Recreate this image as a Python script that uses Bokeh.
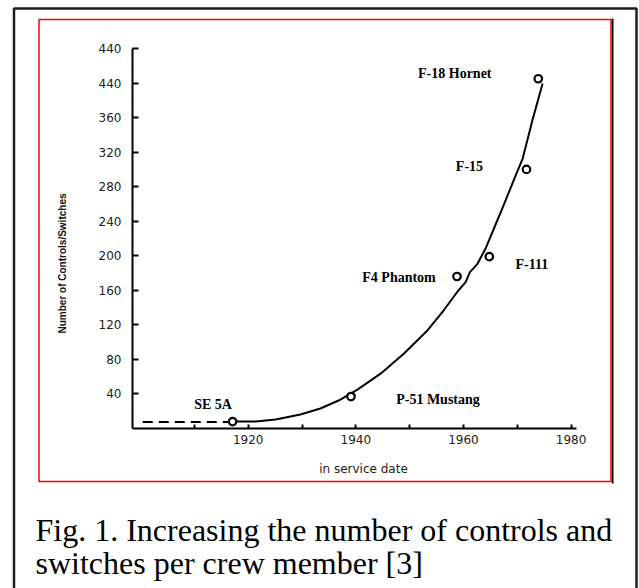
import math
from bokeh.plotting import figure
from bokeh.models import ColumnDataSource, FixedTicker, Label, BoxAnnotation, Range1d
from bokeh.core.properties import value
from bokeh.embed import file_html
from bokeh.resources import INLINE

# ---------------- data ----------------
aircraft = ["SE 5A", "P-51 Mustang", "F4 Phantom", "F-111", "F-15", "F-18 Hornet"]
service_year = [1917.1, 1939.1, 1958.8, 1964.8, 1971.7, 1973.9]
controls = [8, 37, 176, 199, 300, 405]

# hand-drawn trend curve, sampled along the drawn line
trend_year = [1917.1, 1921.4, 1925.1, 1929.7, 1933.4, 1936.8, 1940.3, 1944.6,
              1948.9, 1953.3, 1956.3, 1958.8, 1960.4, 1961.2, 1962.6, 1964.1,
              1966.9, 1969.7, 1971.0, 1972.8, 1974.7]
trend_controls = [8.1, 8.1, 10.4, 16.2, 23.2, 32.4, 45.0, 63.5,
                  86.5, 113.5, 136.6, 157.8, 169.4, 181.0, 190.7, 208.4,
                  250.1, 293.0, 312.6, 356.6, 399.5]

# dashed early segment before SE 5A
early_year = [1900.4, 1916.5]
early_controls = [7.5, 7.5]

x_ticks = [1910, 1920, 1930, 1940, 1950, 1960, 1970, 1980]
x_tick_labels = ["", "1920", "", "1940", "", "1960", "", "1980"]
y_ticks = [40, 80, 120, 160, 200, 240, 280, 320, 360, 400, 440]
y_tick_labels = ["40", "80", "120", "160", "200", "240", "280", "320", "360", "440", "440"]

x_title = "in service date"
y_title = "Number of Controls/Switches"
caption_lines = ["Fig. 1. Increasing the number of controls and",
                 "switches per crew member [3]"]

# ---------------- layout constants (page pixels) ----------------
W, H = 639, 588          # canvas size
M = 0                    # page offset of the canvas
OX, OY = 132, 428        # page position of axis origin
X0, X1 = 1898.5, 1981.0  # x-axis extent
Y1 = 440.0
SX = 444.0 / (X1 - X0)   # px per year
SY = 380.0 / Y1          # px per unit


def px2x(px):
    return X0 + (px - OX) / SX


def py2y(py):
    return (OY - py) / SY


p = figure(frame_width=W, frame_height=H, min_border=0,
           min_border_left=0, min_border_right=0, min_border_top=0, min_border_bottom=0,
           x_range=Range1d(px2x(M), px2x(M + W)),
           y_range=Range1d(py2y(M + H), py2y(M)),
           output_backend="svg", toolbar_location=None, tools="")
p.title.visible = False
p.outline_line_color = None
p.background_fill_color = "white"
p.border_fill_color = "white"
p.grid.visible = False

# ---------------- decorations ----------------
outer = BoxAnnotation(left=px2x(13.5), right=px2x(636), top=py2y(8), bottom=py2y(640),
                      fill_color=None, line_color="#1e1e1e", line_alpha=1.0, line_width=2.5)
red = BoxAnnotation(left=px2x(38.5), right=px2x(610.5), top=py2y(19), bottom=py2y(481),
                    fill_color=None, line_color="#ff0000", line_alpha=1.0, line_width=1.5)
shadow = BoxAnnotation(left=px2x(611.3), right=px2x(613), top=py2y(18), bottom=py2y(483),
                       fill_color="black", fill_alpha=1.0, line_color=None)
for b in (outer, red, shadow):
    p.add_layout(b)

# ---------------- axes ----------------
xa = p.xaxis[0]
xa.fixed_location = 0
xa.bounds = (X0, X1)
xa.ticker = FixedTicker(ticks=x_ticks)
xa.major_label_overrides = {t: l for t, l in zip(x_ticks, x_tick_labels)}
xa.axis_line_width = 2
xa.axis_line_color = "black"
xa.major_tick_in = 4
xa.major_tick_out = 0
xa.major_tick_line_width = 2
xa.minor_tick_line_color = None
xa.major_label_standoff = 6
xa.major_label_text_font = "DejaVu Sans"
xa.major_label_text_font_size = "12px"
xa.major_label_text_color = "#222222"

ya = p.yaxis[0]
ya.fixed_location = X0
ya.bounds = (0, Y1)
ya.ticker = FixedTicker(ticks=y_ticks)
ya.major_label_overrides = {t: l for t, l in zip(y_ticks, y_tick_labels)}
ya.axis_line_width = 2
ya.axis_line_color = "black"
ya.major_tick_in = 6
ya.major_tick_out = 0
ya.major_tick_line_width = 2
ya.minor_tick_line_color = None
ya.major_label_standoff = 11
ya.major_label_text_font = "DejaVu Sans"
ya.major_label_text_font_size = "12px"
ya.major_label_text_color = "#222222"

# ---------------- data marks ----------------
p.line(early_year, early_controls, line_color="black", line_width=2, line_dash="10 6")
p.line(trend_year, trend_controls, line_color="black", line_width=2)
p.scatter(service_year, controls, marker="circle", size=7.5,
          fill_color="white", line_color="black", line_width=2.2)

label_dx = [-19.5, 87, -58, 42.5, -57, -83.5]
label_dy = [-17, 3, 1, 8, -3, -5]
src = ColumnDataSource(dict(x=service_year, y=controls, name=aircraft,
                            dx=label_dx, dy=label_dy))
p.text(x="x", y="y", text="name", x_offset="dx", y_offset="dy", source=src,
       text_align="center", text_baseline="middle",
       text_font=value("Liberation Serif"), text_font_style="bold",
       text_font_size="14px", text_color="black")

# ---------------- titles & caption ----------------
p.add_layout(Label(x=px2x(363), y=py2y(468), text=x_title, text_align="center",
                   text_baseline="middle", text_font="DejaVu Sans",
                   text_font_size="12px", text_color="#222222"))
p.add_layout(Label(x=px2x(62), y=py2y(263), text=y_title, angle=math.pi / 2,
                   text_align="center", text_baseline="middle",
                   text_font="Liberation Sans", text_font_style="bold",
                   text_font_size="10px", text_color="#111111"))
for i, line in enumerate(caption_lines):
    p.add_layout(Label(x=px2x(35), y=py2y(529 + 33 * i), text=line,
                       text_align="left", text_baseline="alphabetic",
                       text_font="Liberation Serif", text_font_size="32px",
                       text_color="black"))

open("out.html", "w").write(file_html(p, INLINE))
